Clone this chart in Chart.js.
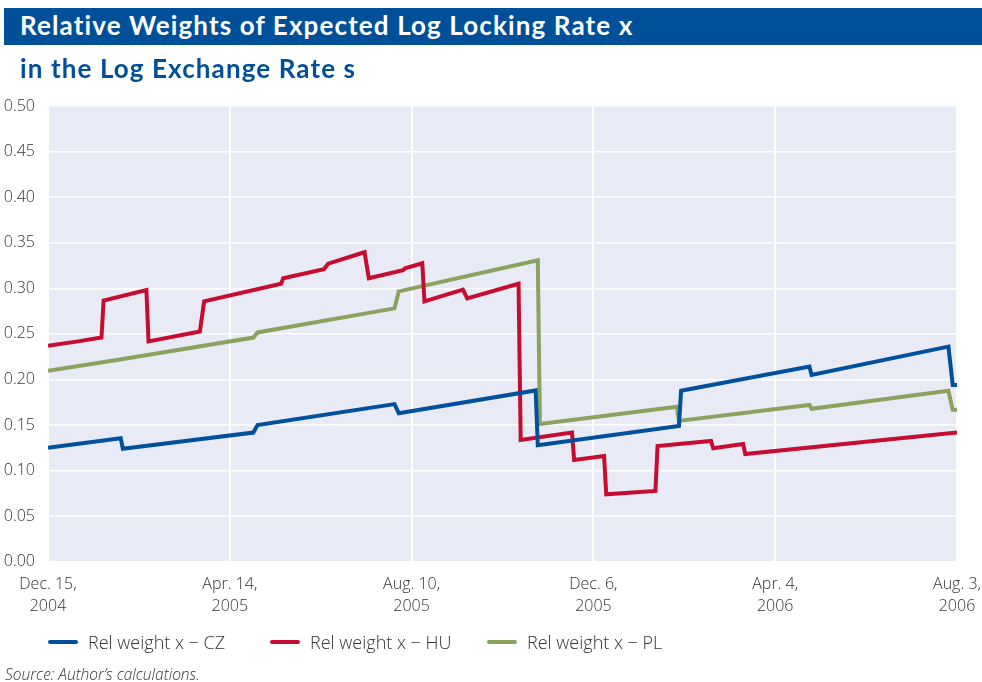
<!DOCTYPE html>
<html>
<head>
<meta charset="utf-8">
<script src="https://cdn.jsdelivr.net/npm/chart.js@4"></script>
<style>
  html, body { margin:0; padding:0; background:#fff; }
  body { width:982px; height:682px; position:relative; overflow:hidden; font-family:"Open Sans", sans-serif; }
  #wrap { position:absolute; left:0; top:0; width:982px; height:682px; }
  #banner { position:absolute; left:4px; top:8px; width:978px; height:37px; background:#004f99; }
  .t { position:absolute; left:20px; font-family:"Lato", sans-serif; font-weight:700; white-space:nowrap; line-height:1; }
  #t1 { top:12px; color:#fff; font-size:26px; }
  #t2 { top:55px; color:#004f99; font-size:26px; }
  .lg { position:absolute; top:632px; height:20px; display:flex; align-items:center; white-space:nowrap;
        font-weight:300; font-size:18px; color:#333; }
  .lg i { display:inline-block; width:30px; height:4px; border-radius:2px; margin-right:10px; }
  #src { position:absolute; left:5px; top:663px; font-style:italic; font-weight:300; font-size:15.5px; color:#333; white-space:nowrap; }
</style>
</head>
<body>
<div id="wrap"><canvas id="c" width="982" height="682"></canvas></div>
<div id="banner"></div>
<div class="t" id="t1">Relative Weights of Expected Log Locking Rate x</div>
<div class="t" id="t2">in the Log Exchange Rate s</div>
<div class="lg" style="left:48px"><i style="background:#00509d"></i><span>Rel weight x − CZ</span></div>
<div class="lg" style="left:270px"><i style="background:#c60c30"></i><span>Rel weight x − HU</span></div>
<div class="lg" style="left:487px"><i style="background:#8ba25e"></i><span>Rel weight x − PL</span></div>
<div id="src">Source: Author’s calculations.</div>
<script>
// x = business-day index from Dec. 15, 2004 (0) to Aug. 3, 2006 (425)
const tickLabels = [["Dec. 15,","2004"],["Apr. 14,","2005"],["Aug. 10,","2005"],["Dec. 6,","2005"],["Apr. 4,","2006"],["Aug. 3,","2006"]];
const tickStep = 85;

const czX = [0, 34, 35, 96, 98, 162, 164, 228, 229, 295, 296, 356, 357, 421, 423, 425];
const czY = [0.125, 0.1355, 0.124, 0.1418, 0.150, 0.173, 0.163, 0.188, 0.128, 0.149, 0.1876, 0.2143, 0.205, 0.236, 0.194, 0.194];

const huX = [0, 14, 25, 26, 46, 47, 71, 73, 109, 110, 129, 131, 148, 150, 166, 167, 175, 176, 194, 196, 220, 221, 245, 246, 260, 261, 284, 285, 310, 311, 325, 326, 425];
const huY = [0.237, 0.2418, 0.246, 0.2865, 0.298, 0.2418, 0.2527, 0.2857, 0.305, 0.311, 0.321, 0.327, 0.3396, 0.311, 0.320, 0.322, 0.3275, 0.2857, 0.2985, 0.289, 0.305, 0.1337, 0.1418, 0.1117, 0.116, 0.074, 0.0777, 0.127, 0.1326, 0.1246, 0.1293, 0.1183, 0.1418];

const plX = [0, 33, 96, 98, 162, 164, 229, 230, 294, 295, 356, 357, 421, 423, 425];
const plY = [0.2095, 0.2216, 0.246, 0.2516, 0.278, 0.2967, 0.3308, 0.1513, 0.170, 0.1546, 0.172, 0.1678, 0.1876, 0.1667, 0.1667];

const pts = (xs, ys) => xs.map((x, i) => ({x: x, y: ys[i]}));

// widen title lines to the reference widths via letter spacing
function fitWidth(id, target) {
  const el = document.getElementById(id);
  const n = el.textContent.length;
  const w = el.getBoundingClientRect().width;
  el.style.letterSpacing = ((target - w) / n).toFixed(2) + 'px';
}
fitWidth('t1', 614);
fitWidth('t2', 336);

const bgPlugin = {
  id: 'plotbg',
  beforeDraw(chart) {
    const a = chart.chartArea, ctx = chart.ctx;
    ctx.save(); ctx.fillStyle = '#e8ebf5';
    ctx.fillRect(a.left, a.top, a.right - a.left, a.bottom - a.top);
    ctx.restore();
  }
};

const tickFont = {family: '"Open Sans", sans-serif', size: 16, weight: 300, lineHeight: 1.35};

new Chart(document.getElementById('c'), {
  type: 'line',
  data: {
    datasets: [
      {label: 'Rel weight x − CZ', data: pts(czX, czY), borderColor: '#00509d'},
      {label: 'Rel weight x − HU', data: pts(huX, huY), borderColor: '#c60c30'},
      {label: 'Rel weight x − PL', data: pts(plX, plY), borderColor: '#8ba25e'}
    ].map(d => Object.assign(d, {borderWidth: 4, pointRadius: 0, tension: 0, fill: false, borderJoinStyle: 'miter', borderCapStyle: 'butt'}))
  },
  options: {
    responsive: false,
    animation: false,
    events: [],
    layout: {padding: {top: 106, right: 25, bottom: 53, left: 0}},
    plugins: {legend: {display: false}, title: {display: false}, tooltip: {enabled: false}},
    scales: {
      x: {
        type: 'linear', min: 0, max: 425,
        border: {display: false},
        grid: {color: '#ffffff', lineWidth: 2, drawTicks: false},
        ticks: {stepSize: tickStep, autoSkip: false, maxRotation: 0, padding: 12, color: '#333', font: tickFont,
                callback: v => tickLabels[Math.round(v / tickStep)]},
        afterFit: s => { s.paddingLeft = 0; s.paddingRight = 0; }
      },
      y: {
        min: 0, max: 0.5,
        border: {display: false},
        grid: {color: '#ffffff', lineWidth: 1.5, drawTicks: false},
        ticks: {stepSize: 0.05, padding: 13, color: '#333', font: tickFont, callback: v => v.toFixed(2)},
        afterFit: s => { s.width = 48; }
      }
    }
  },
  plugins: [bgPlugin]
});
</script>
</body>
</html>
